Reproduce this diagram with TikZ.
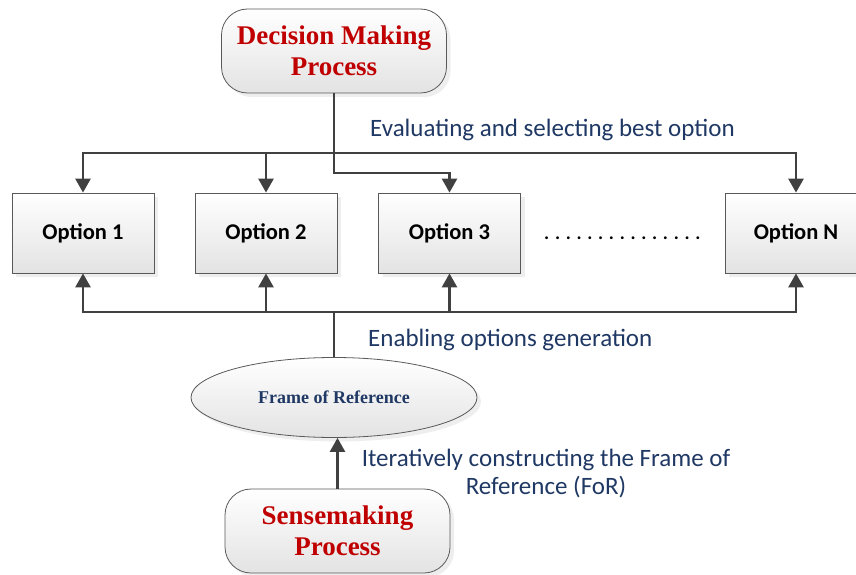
\documentclass[tikz,border=0pt]{standalone}
\usepackage{fontspec}
\setmainfont{Liberation Serif}
\newfontfamily\calibrifont{Carlito}
\usetikzlibrary{arrows.meta,shadows,shapes.geometric}
\definecolor{linegray}{HTML}{404040}
\definecolor{procred}{HTML}{C00000}
\definecolor{navytext}{HTML}{1F3864}
\definecolor{boxedge}{HTML}{595959}

\begin{document}
\begin{tikzpicture}[x=1pt,y=-1pt,
  wire/.style={draw=linegray, line width=2.7pt},
  conn/.style={wire, -{Triangle[width=15pt,length=14pt]}},
  boxshade/.style={top color=white, bottom color=black!11, draw=boxedge, line width=0.8pt,
    drop shadow={shadow xshift=4pt, shadow yshift=-4pt, fill=black!13}},
  process/.style={boxshade, rounded corners=26pt, minimum width=225pt, minimum height=84pt,
    font=\fontsize{27}{31}\selectfont\bfseries, text=procred, align=center, inner sep=0pt},
  option/.style={boxshade, minimum width=142pt, minimum height=80pt,
    font=\calibrifont\bfseries\fontsize{22.5}{27}\selectfont, inner sep=0pt},
  frame/.style={boxshade, ellipse, minimum width=286pt, minimum height=80pt,
    font=\fontsize{18}{22}\selectfont\bfseries, text=navytext, inner sep=0pt},
  label/.style={font=\calibrifont\fontsize{25}{30}\selectfont, text=navytext, inner sep=0pt}
]
\clip (0,0) rectangle (856,575);

% process boxes, options and the frame of reference
\node[process] (dm) at (334,51) {Decision Making\\Process};
\node[option] (o1) at (83,233) {Option 1};
\node[option] (o2) at (266,233) {Option 2};
\node[option] (o3) at (449.5,233) {Option 3};
\node[option] (on) at (796,233) {Option N};
\node[frame] (for) at (334,397.5) {Frame of Reference};
\node[process] (sm) at (337.5,531) {Sensemaking\\Process};

% row of dots between Option 3 and Option N
\node[font=\calibrifont\bfseries\fontsize{19}{23}\selectfont, anchor=base west, inner sep=0pt] (dots)
  at (544,239) {. . . . . . . . . . . . . . .};

% decision making feeds every option
\coordinate (jtop) at (334,153);
\draw[wire] (dm) -- (jtop);
\draw[conn] (jtop) -| (o1.north);
\draw[conn] (jtop) -| (on.north);
\draw[conn] (o2.north |- jtop) -- (o2.north);
\draw[conn] (jtop) -- ++(0,20) -| (o3.north);

% frame of reference enables every option
\coordinate (jbot) at (334,312);
\draw[wire] (jbot) -- (for.north);
\draw[conn] (jbot) -| (o1.south);
\draw[conn] (jbot) -| (on.south);
\draw[conn] (o2.south |- jbot) -- (o2.south);
\draw[conn] (o3.south |- jbot) -- (o3.south);

% sensemaking builds the frame of reference
\draw[conn] (sm.north) -- (sm.north |- for.south);

% labels
\node[label, anchor=base west] (eval) at (370,136) {Evaluating and selecting best option};
\node[label, anchor=base west] (enab) at (368,346) {Enabling options generation};
\node[label, anchor=base] (iter1) at (546,466) {Iteratively constructing the Frame of};
\node[label, anchor=base] (iter2) at (546,494) {Reference (FoR)};
\end{tikzpicture}
\end{document}
